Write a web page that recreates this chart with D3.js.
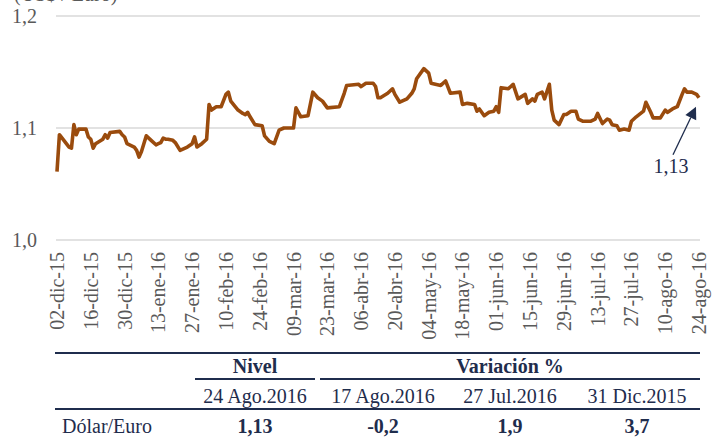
<!DOCTYPE html>
<html>
<head>
<meta charset="utf-8">
<script src="https://cdn.jsdelivr.net/npm/d3@7"></script>
<style>
  html, body { margin: 0; padding: 0; background: #fff; }
  svg { display: block; font-family: "Liberation Serif", "Times New Roman", serif; }
</style>
</head>
<body>
<div id="chart"></div>
<script>
// Dollar / euro exchange rate, daily, 02-dic-15 .. 24-ago-16
var dates = [
  "2015-12-02","2015-12-03","2015-12-07","2015-12-08","2015-12-09","2015-12-10","2015-12-11",
  "2015-12-14","2015-12-15","2015-12-16","2015-12-17","2015-12-18","2015-12-21","2015-12-22",
  "2015-12-23","2015-12-24","2015-12-28","2015-12-29","2015-12-30","2015-12-31","2016-01-03",
  "2016-01-04","2016-01-05","2016-01-06","2016-01-08","2016-01-10","2016-01-12","2016-01-13",
  "2016-01-14","2016-01-15","2016-01-16","2016-01-17","2016-01-19","2016-01-20","2016-01-22",
  "2016-01-25","2016-01-27","2016-01-28","2016-01-29","2016-01-31","2016-02-02","2016-02-03",
  "2016-02-04","2016-02-06","2016-02-08","2016-02-10","2016-02-11","2016-02-12","2016-02-15",
  "2016-02-17","2016-02-18","2016-02-19","2016-02-20","2016-02-22","2016-02-25","2016-02-26",
  "2016-02-28","2016-03-01","2016-03-03","2016-03-05","2016-03-09","2016-03-10","2016-03-12",
  "2016-03-15","2016-03-17","2016-03-19","2016-03-21","2016-03-23","2016-03-28","2016-03-30",
  "2016-03-31","2016-04-05","2016-04-06","2016-04-08","2016-04-11","2016-04-12","2016-04-13",
  "2016-04-14","2016-04-17","2016-04-19","2016-04-20","2016-04-22","2016-04-25","2016-04-27",
  "2016-04-28","2016-04-29","2016-05-02","2016-05-04","2016-05-05","2016-05-09","2016-05-11",
  "2016-05-13","2016-05-17","2016-05-18","2016-05-20","2016-05-23","2016-05-24","2016-05-25",
  "2016-05-27","2016-05-29","2016-05-31","2016-06-01","2016-06-02","2016-06-03","2016-06-06",
  "2016-06-08","2016-06-10","2016-06-13","2016-06-14","2016-06-16","2016-06-17","2016-06-18",
  "2016-06-20","2016-06-21","2016-06-23","2016-06-24","2016-06-25","2016-06-27","2016-06-29",
  "2016-06-30","2016-07-02","2016-07-04","2016-07-05","2016-07-07","2016-07-10","2016-07-12",
  "2016-07-13","2016-07-15","2016-07-17","2016-07-18","2016-07-19","2016-07-21","2016-07-22",
  "2016-07-24","2016-07-26","2016-07-27","2016-07-29","2016-08-01","2016-08-02","2016-08-04",
  "2016-08-05","2016-08-08","2016-08-10","2016-08-11","2016-08-13","2016-08-15","2016-08-17",
  "2016-08-18","2016-08-19","2016-08-21","2016-08-23","2016-08-24"
];
var rates = [
  1.061,1.094,1.083,1.082,1.103,1.094,1.099,
  1.099,1.092,1.090,1.082,1.086,1.090,1.094,
  1.091,1.096,1.097,1.094,1.092,1.086,1.083,
  1.080,1.074,1.079,1.093,1.089,1.085,1.086,
  1.087,1.091,1.090,1.090,1.089,1.087,1.080,
  1.083,1.086,1.092,1.083,1.086,1.090,1.121,
  1.116,1.119,1.119,1.130,1.132,1.124,1.116,
  1.113,1.112,1.114,1.110,1.103,1.102,1.093,
  1.088,1.086,1.098,1.100,1.100,1.118,1.110,
  1.111,1.132,1.127,1.124,1.118,1.119,1.131,
  1.138,1.139,1.137,1.140,1.140,1.137,1.127,
  1.127,1.131,1.135,1.130,1.123,1.126,1.131,
  1.135,1.144,1.153,1.149,1.140,1.138,1.142,
  1.131,1.132,1.121,1.122,1.121,1.115,1.117,
  1.111,1.114,1.115,1.119,1.114,1.136,1.135,
  1.139,1.126,1.130,1.122,1.126,1.124,1.130,
  1.132,1.126,1.139,1.116,1.107,1.103,1.112,
  1.112,1.115,1.115,1.108,1.106,1.106,1.108,
  1.113,1.104,1.108,1.107,1.103,1.102,1.098,
  1.099,1.098,1.106,1.110,1.115,1.123,1.114,
  1.109,1.109,1.116,1.114,1.117,1.119,1.130,
  1.135,1.132,1.132,1.130,1.127
];

var yTicks = [1.0, 1.1, 1.2];
var xTickLabels = [
  "02-dic-15","16-dic-15","30-dic-15","13-ene-16","27-ene-16","10-feb-16","24-feb-16",
  "09-mar-16","23-mar-16","06-abr-16","20-abr-16","04-may-16","18-may-16","01-jun-16",
  "15-jun-16","29-jun-16","13-jul-16","27-jul-16","10-ago-16","24-ago-16"
];
var unitLabel = "(US$ / Euro)";
var lastLabel = "1,13";

// table
var tableHeaders = ["Nivel", "Variación %"];
var tableDates = ["24 Ago.2016", "17 Ago.2016", "27 Jul.2016", "31 Dic.2015"];
var tableRowName = "Dólar/Euro";
var tableRowValues = ["1,13", "-0,2", "1,9", "3,7"];

var width = 717, height = 439;
var lineColor = "#9a4b0d";
var navy = "#1f2d4d";
var grey = "#595959";

var parse = d3.timeParse("%Y-%m-%d");
var data = dates.map(function (d, i) { return { date: parse(d), value: rates[i] }; });

var start = parse("2015-12-02");
var tickDates = xTickLabels.map(function (l, i) { return d3.timeDay.offset(start, 14 * i); });

var x = d3.scaleTime()
  .domain([start, tickDates[tickDates.length - 1]])
  .range([57, 699]);
var y = d3.scaleLinear().domain([1.0, 1.2]).range([240, 16]);
var fmt = function (v) { return d3.format(".1f")(v).replace(".", ","); };

var svg = d3.select("#chart").append("svg")
  .attr("width", width)
  .attr("height", height);

// unit label, cut off at the top like the original
svg.append("text")
  .attr("x", 14).attr("y", 1)
  .attr("font-size", 20)
  .attr("fill", grey)
  .text(unitLabel);

// gridlines
svg.append("g").selectAll("line")
  .data(yTicks)
  .enter().append("line")
  .attr("x1", 56).attr("x2", 700)
  .attr("y1", function (d) { return y(d); })
  .attr("y2", function (d) { return y(d); })
  .attr("stroke", "#d9d9d9")
  .attr("stroke-width", 1.3);

// y labels
svg.append("g").selectAll("text")
  .data(yTicks)
  .enter().append("text")
  .attr("x", 37)
  .attr("y", function (d) { return y(d); })
  .attr("dy", "0.35em")
  .attr("text-anchor", "end")
  .attr("font-size", 20)
  .attr("fill", grey)
  .text(fmt);

// x labels (rotated)
svg.append("g").selectAll("text")
  .data(tickDates)
  .enter().append("text")
  .attr("transform", function (d) { return "translate(" + x(d) + ",252) rotate(-90)"; })
  .attr("dy", "0.35em")
  .attr("text-anchor", "end")
  .attr("font-size", 20)
  .attr("fill", grey)
  .text(function (d, i) { return xTickLabels[i]; });

// series
var line = d3.line()
  .x(function (d) { return x(d.date); })
  .y(function (d) { return y(d.value); });

svg.append("path")
  .datum(data)
  .attr("d", line)
  .attr("fill", "none")
  .attr("stroke", lineColor)
  .attr("stroke-width", 3.6)
  .attr("stroke-linejoin", "round");

// annotation arrow for last value
var last = data[data.length - 1];
var tipX = x(last.date) - 3, tipY = y(last.value) + 9;
var tailX = tipX - 23, tailY = tipY + 48;
var ang = Math.atan2(tipY - tailY, tipX - tailX);
var headLen = 12, headW = 6;
var bx = tipX - headLen * Math.cos(ang), by = tipY - headLen * Math.sin(ang);
svg.append("line")
  .attr("x1", tailX).attr("y1", tailY)
  .attr("x2", bx).attr("y2", by)
  .attr("stroke", navy).attr("stroke-width", 1.3);
svg.append("polygon")
  .attr("points", [
    [tipX, tipY],
    [bx + headW * Math.sin(ang), by - headW * Math.cos(ang)],
    [bx - headW * Math.sin(ang), by + headW * Math.cos(ang)]
  ].map(function (p) { return p.join(","); }).join(" "))
  .attr("fill", navy);
svg.append("text")
  .attr("x", tailX - 2).attr("y", tailY + 18)
  .attr("text-anchor", "middle")
  .attr("font-size", 20)
  .attr("fill", navy)
  .text(lastLabel);

// table
var colX = [255, 383, 510, 637];
var t = svg.append("g").attr("fill", navy).attr("font-size", 20);

t.append("line").attr("x1", 55).attr("x2", 700).attr("y1", 353).attr("y2", 353)
  .attr("stroke", navy).attr("stroke-width", 2);
t.append("line").attr("x1", 195).attr("x2", 315).attr("y1", 379).attr("y2", 379)
  .attr("stroke", navy).attr("stroke-width", 2);
t.append("line").attr("x1", 320).attr("x2", 700).attr("y1", 379).attr("y2", 379)
  .attr("stroke", navy).attr("stroke-width", 2);
t.append("line").attr("x1", 55).attr("x2", 700).attr("y1", 409).attr("y2", 409)
  .attr("stroke", navy).attr("stroke-width", 2);

t.append("text").attr("x", colX[0]).attr("y", 373)
  .attr("text-anchor", "middle").attr("font-weight", "bold")
  .text(tableHeaders[0]);
t.append("text").attr("x", colX[2]).attr("y", 373)
  .attr("text-anchor", "middle").attr("font-weight", "bold")
  .text(tableHeaders[1]);

t.selectAll(".hdr")
  .data(tableDates)
  .enter().append("text")
  .attr("class", "hdr")
  .attr("x", function (d, i) { return colX[i]; })
  .attr("y", 403)
  .attr("text-anchor", "middle")
  .text(function (d) { return d; });

t.append("text").attr("x", 62).attr("y", 433).text(tableRowName);
t.selectAll(".val")
  .data(tableRowValues)
  .enter().append("text")
  .attr("class", "val")
  .attr("x", function (d, i) { return colX[i]; })
  .attr("y", 433)
  .attr("text-anchor", "middle")
  .attr("font-weight", "bold")
  .text(function (d) { return d; });
</script>
</body>
</html>
